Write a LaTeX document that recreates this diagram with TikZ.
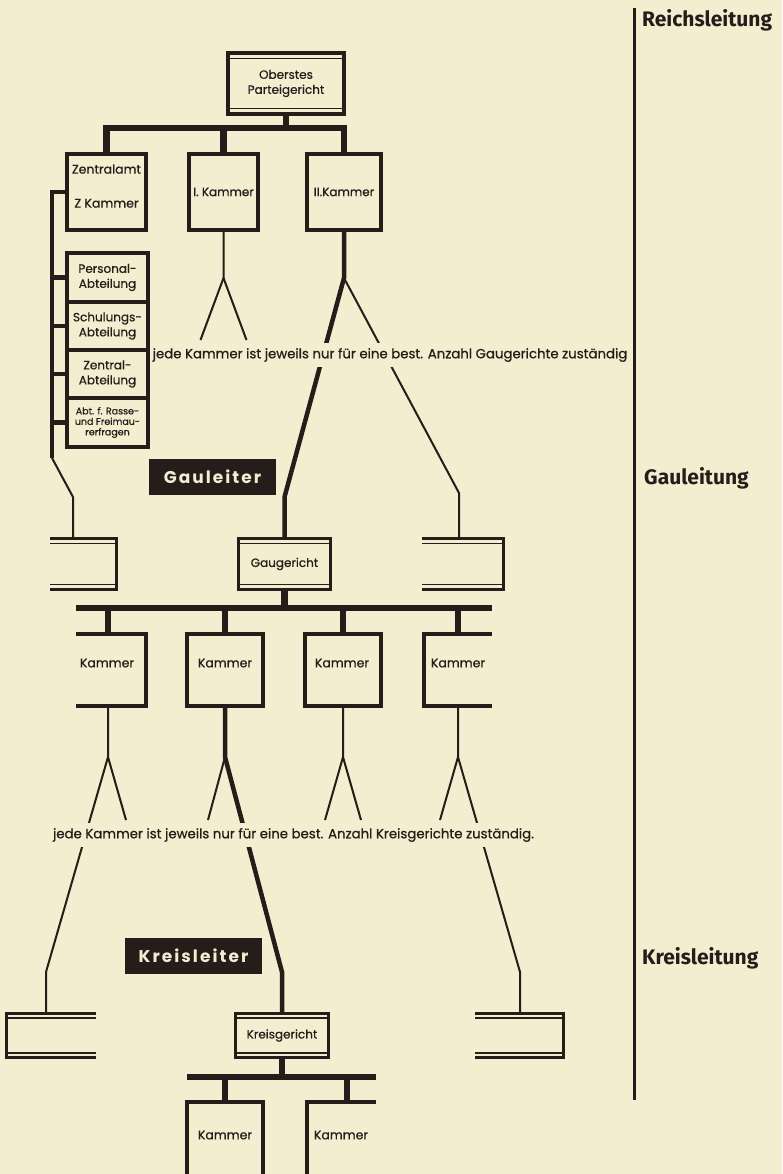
\documentclass[tikz,border=0pt]{standalone}
\usepackage{fontspec}
\setmainfont{Poppins}[FakeBold=0.7]
\newfontfamily\spacedfont[LetterSpace=12]{Poppins}
\newfontfamily\tierfont{Fira Sans}
\definecolor{paper}{RGB}{244,237,208}
\definecolor{ink}{RGB}{36,29,25}

\begin{document}
\begin{tikzpicture}[x=1pt,y=-1pt,
  line join=miter,
  frame/.style={draw=ink, line width=4pt, outer sep=0pt, inner sep=0pt, align=center, text=ink,
                font=\fontsize{12}{15}\selectfont},
  court/.style={frame, line width=3pt},
  hollow/.style={draw=none, outer sep=0pt, inner sep=0pt},
  busline/.style={draw=ink, line width=6.5pt},
  heavy/.style={draw=ink, line width=4.5pt},
  twig/.style={draw=ink, line width=2pt},
  rim/.style={draw=ink, line width=3pt},
  boxrim/.style={draw=ink, line width=4pt},
  hairline/.style={draw=ink, line width=1.6pt},
  word/.style={text=ink, inner sep=0pt, font=\fontsize{12.5}{14}\selectfont},
  remark/.style={fill=paper, text=ink, inner xsep=1pt, inner ysep=5pt, font=\fontsize{13.3}{15}\selectfont},
  badge/.style={fill=ink, text=paper, inner sep=0pt, font=\spacedfont\bfseries\fontsize{17}{20}\selectfont},
  tier/.style={anchor=west, text=ink, inner sep=0pt, font=\tierfont\bfseries\fontsize{21}{24}\selectfont},
]
\useasboundingbox (0,0) rectangle (782,1174);
\fill[paper] (0,0) rectangle (782,1174);
\clip (0,0) rectangle (782,1174);

% ---------- level divider and level names ----------
\coordinate (div-top) at (634,8);
\coordinate (div-bot) at (634,1100);
\draw[rim] (div-top) -- (div-bot);
\node[tier] (t1) at (642,20) {Reichsleitung};
\node[tier] (t2) at (644,478) {Gauleitung};
\node[tier] (t3) at (642,958) {Kreisleitung};

% ---------- supreme party court ----------
\node[frame, line width=4.5pt, minimum width=116pt, minimum height=61pt] (op) at (286,83.5) {Oberstes\\Parteigericht};
\draw[hairline] ([yshift=-5.5pt]op.north west) -- ([yshift=-5.5pt]op.north east);
\draw[hairline] ([yshift=5.5pt]op.south west) -- ([yshift=5.5pt]op.south east);

% ---------- first row of chambers ----------
\begin{scope}[every node/.append style={font=\fontsize{13}{15}\selectfont}]
\node[frame, minimum width=79pt, minimum height=76pt, font=\fontsize{12.5}{15}\selectfont] (zk) at (106.5,192) {Zentralamt\\[19pt]Z Kammer\\[-3pt]\mbox{}};
\node[frame, minimum width=69pt, minimum height=76pt] (ka1) at (223.5,192) {I. Kammer};
\node[frame, minimum width=74pt, minimum height=76pt] (ka2) at (344,192) {II.Kammer};
\end{scope}

\coordinate (bus1) at (286,128);
\draw[busline] (op.south) -- (bus1);
\draw[busline] (zk.north) -- (zk.north |- bus1) -- (ka2.north |- bus1) -- (ka2.north);
\draw[busline] (ka1.north) -- (ka1.north |- bus1);

% ---------- departments of the central office ----------
\begin{scope}[every node/.append style={line width=3.5pt, minimum width=81.5pt, font=\fontsize{11.5}{13}\selectfont}]
\node[frame, minimum height=49pt] (pers) at (107.5,277.5) {Personal-\\Abteilung};
\node[frame, minimum height=48pt] (schul) at (107.5,326) {Schulungs-\\Abteilung};
\node[frame, minimum height=48pt] (zentr) at (107.5,374) {Zentral-\\Abteilung};
\node[frame, minimum height=49pt, font=\fontsize{9.5}{10.5}\selectfont] (rasse) at (107.5,422.5) {Abt. f. Rasse-\\und Freimau-\\rerfragen};
\end{scope}

\coordinate (trunk) at (52,192);
\coordinate (trunk-end) at (52,458);
\coordinate (lpm-bend) at (73,497);
\draw[heavy] (zk.west) -- (trunk) -- (trunk-end);
\foreach \b in {pers,schul,zentr,rasse} \draw[heavy] (trunk |- \b.west) -- (\b.west);

% ---------- Gau level ----------
\node[hollow, minimum width=66pt, minimum height=51pt] (lpm) at (83,564) {};
\node[hollow, minimum width=81pt, minimum height=51pt] (rpm) at (462.5,564) {};
\foreach \p in {lpm,rpm} {
  \draw[rim] (\p.north west) -- (\p.north east) -- (\p.south east) -- (\p.south west);
  \draw[hairline] ([yshift=-5pt]\p.north west) -- ([yshift=-5pt]\p.north east);
  \draw[hairline] ([yshift=5pt]\p.south west) -- ([yshift=5pt]\p.south east);
}
\node[court, minimum width=92pt, minimum height=51pt] (gg) at (284.5,564) {Gaugericht};
\draw[hairline] ([yshift=-5pt]gg.north west) -- ([yshift=-5pt]gg.north east);
\draw[hairline] ([yshift=5pt]gg.south west) -- ([yshift=5pt]gg.south east);

\draw[twig] (trunk-end) -- (lpm-bend) -- (lpm-bend |- lpm.north);

% forks below the first row
\coordinate (f1) at (223.5,278);
\coordinate (f1l) at (200.5,340);
\coordinate (f1r) at (246.5,340);
\draw[twig] (ka1.south) -- (f1) -- (f1l);
\draw[twig] (f1) -- (f1r);
\coordinate (f2) at (344,278);
\coordinate (gg-bend) at (284.5,497);
\coordinate (rpm-bend) at (459,493);
\draw[heavy] (ka2.south) -- (f2) -- (gg-bend) -- (gg.north);
\draw[twig] (f2) -- (rpm-bend) -- (rpm-bend |- rpm.north);

\node[remark] (n1) at (390,355) {jede Kammer ist jeweils nur für eine best. Anzahl Gaugerichte zuständig};
\node[badge, minimum width=127pt, minimum height=36pt] (gl) at (212.5,477) {Gauleiter};

% ---------- chambers of the Gau court ----------
\node[hollow, minimum width=70pt, minimum height=72pt] (kr1) at (111,670) {};
\node[frame, minimum width=76pt, minimum height=72pt] (kr2) at (225,670) {};
\node[frame, minimum width=76pt, minimum height=72pt] (kr3) at (343,670) {};
\node[hollow, minimum width=68pt, minimum height=72pt] (kr4) at (458,670) {};
\draw[boxrim] (kr1.north west) -- (kr1.north east) -- (kr1.south east) -- (kr1.south west);
\draw[boxrim] (kr4.north east) -- (kr4.north west) -- (kr4.south west) -- (kr4.south east);
\node[word] (w1) at (107,663) {Kammer};
\node[word] (w2) at (225,663) {Kammer};
\node[word] (w3) at (342,663) {Kammer};
\node[word] (w4) at (458,663) {Kammer};

\coordinate (bus2) at (284.5,608);
\coordinate (kr1-in) at (108,634);
\draw[busline] (gg.south) -- (bus2);
\draw[busline] (kr1.north west |- bus2) -- (kr4.north east |- bus2);
\draw[busline] (kr1-in) -- (kr1-in |- bus2);
\foreach \k in {kr2,kr3,kr4} \draw[busline] (\k.north) -- (\k.north |- bus2);

% ---------- Kreis level ----------
\node[hollow, minimum width=90pt, minimum height=44pt] (lpb) at (51,1035.5) {};
\node[hollow, minimum width=88pt, minimum height=44pt] (rpb) at (519,1035.5) {};
\draw[rim] (lpb.north east) -- (lpb.north west) -- (lpb.south west) -- (lpb.south east);
\draw[rim] (rpb.north west) -- (rpb.north east) -- (rpb.south east) -- (rpb.south west);
\foreach \p in {lpb,rpb} {
  \draw[hairline] ([yshift=-4.5pt]\p.north west) -- ([yshift=-4.5pt]\p.north east);
  \draw[hairline] ([yshift=4.5pt]\p.south west) -- ([yshift=4.5pt]\p.south east);
}
\node[court, minimum width=93pt, minimum height=44pt] (kg) at (282,1035.5) {Kreisgericht};
\draw[hairline] ([yshift=-4.5pt]kg.north west) -- ([yshift=-4.5pt]kg.north east);
\draw[hairline] ([yshift=4.5pt]kg.south west) -- ([yshift=4.5pt]kg.south east);

% forks below the second row
\coordinate (kr1-out) at (108,706);
\coordinate (a1) at (108,757);
\coordinate (a1r) at (126,820);
\coordinate (lpb-bend) at (46,972);
\draw[twig] (kr1-out) -- (a1) -- (a1r);
\draw[twig] (a1) -- (lpb-bend) -- (lpb-bend |- lpb.north);

\coordinate (a2) at (225,757);
\coordinate (a2l) at (208,820);
\coordinate (kg-bend) at (282,972);
\draw[heavy] (kr2.south) -- (a2) -- (kg-bend) -- (kg.north);
\draw[twig] (a2) -- (a2l);

\coordinate (a3) at (343,757);
\coordinate (a3l) at (325,820);
\coordinate (a3r) at (361,820);
\draw[twig] (kr3.south) -- (a3) -- (a3l);
\draw[twig] (a3) -- (a3r);

\coordinate (a4) at (458,757);
\coordinate (a4l) at (440,820);
\coordinate (rpb-bend) at (520,972);
\draw[twig] (kr4.south) -- (a4) -- (a4l);
\draw[twig] (a4) -- (rpb-bend) -- (rpb-bend |- rpb.north);

\node[remark] (n2) at (293.5,835) {jede Kammer ist jeweils nur für eine best. Anzahl Kreisgerichte zuständig.};
\node[badge, minimum width=137pt, minimum height=36pt] (kl) at (193.5,956) {Kreisleiter};

% ---------- chambers of the Kreis court ----------
\node[frame, minimum width=76pt, minimum height=98pt] (kk1) at (225,1151) {};
\node[hollow, minimum width=69pt, minimum height=98pt] (kk2) at (341.5,1151) {};
\draw[boxrim] (kk2.north east) -- (kk2.north west) -- (kk2.south west) -- (kk2.south east);
\node[word] (w5) at (225,1135) {Kammer};
\node[word] (w6) at (341,1135) {Kammer};

\coordinate (bus3) at (283,1077);
\coordinate (kk2-in) at (347,1102);
\draw[busline] (kg.south) -- (kg.south |- bus3);
\draw[busline] (kk1.north west |- bus3) -- (kk2.north east |- bus3);
\draw[busline] (kk1.north) -- (kk1.north |- bus3);
\draw[busline] (kk2-in) -- (kk2-in |- bus3);
\end{tikzpicture}
\end{document}
